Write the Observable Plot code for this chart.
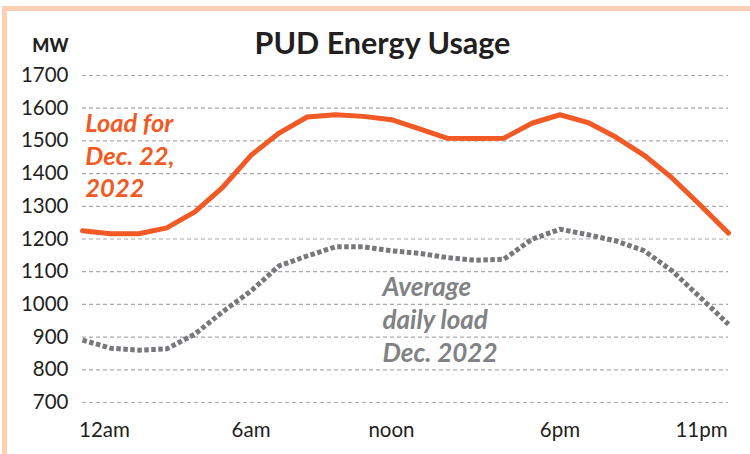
<!DOCTYPE html>
<html>
<head>
<meta charset="utf-8">
<script src="https://cdn.jsdelivr.net/npm/d3@7"></script>
<script src="https://cdn.jsdelivr.net/npm/@observablehq/plot@0.6"></script>
<style>
  html, body { margin: 0; padding: 0; background: #fff; }
  #wrap { position: relative; width: 750px; height: 454px; overflow: hidden; background: #fff; }
  #border { position: absolute; left: 2px; top: 6px; width: 760px; height: 460px;
            border-left: 5px solid #fdd0b6; border-top: 5px solid #fdd0b6; pointer-events: none; }
  #chart { position: absolute; left: 0; top: 0; }
  svg { font-family: Lato, "Open Sans", sans-serif; }
</style>
</head>
<body>
<div id="wrap"><div id="chart"></div><div id="border"></div></div>
<script>
// Hour index 0..23 (12am .. 11pm)
const hours = d3.range(24);
const loadDec22 = [1225, 1216, 1216, 1234, 1283, 1359, 1456, 1524, 1573, 1580, 1575, 1565,
                   1537, 1508, 1507, 1508, 1554, 1580, 1556, 1511, 1456, 1386, 1303, 1218];
const avgDec2022 = [891, 866, 860, 864, 909, 978, 1041, 1118, 1148, 1176, 1176, 1164,
                    1156, 1143, 1135, 1138, 1199, 1230, 1213, 1194, 1164, 1102, 1021, 939];
const yTicks = [700, 800, 900, 1000, 1100, 1200, 1300, 1400, 1500, 1600, 1700];
const xTickPos = [0.78, 6, 11, 17, 22.04];
const xTickLabels = ["12am", "6am", "noon", "6pm", "11pm"];

const loadRows = hours.map((h, i) => ({hour: h, mw: loadDec22[i]}));
const avgRows = hours.map((h, i) => ({hour: h, mw: avgDec2022[i]}));
const xLabelRows = xTickPos.map((p, i) => ({pos: p, label: xTickLabels[i]}));

const orange = "#f15a24";
const grayLine = "#77787b";
const grayText = "#808285";
const ink = "#231f20";

const chart = Plot.plot({
  width: 750,
  height: 454,
  marginLeft: 82,
  marginRight: 22,
  marginTop: 75,
  marginBottom: 52,
  style: {background: "transparent", fontFamily: "Lato, sans-serif"},
  x: {domain: [0, 23], axis: null},
  y: {domain: [700, 1700], axis: null},
  marks: [
    Plot.gridY(yTicks, {stroke: "#aaaaaa", strokeOpacity: 1, strokeWidth: 1.2, strokeDasharray: "4,3"}),
    Plot.axisY({ticks: yTicks, tickSize: 0, tickPadding: 14, fontSize: 20.5, fill: ink, label: null, tickFormat: d => String(d)}),
    Plot.text(xLabelRows, {x: "pos", text: "label", frameAnchor: "bottom", dy: 20, lineAnchor: "top", fontSize: 20.5, fill: ink}),
    Plot.line(avgRows, {x: "hour", y: "mw", stroke: grayLine, strokeWidth: 5, strokeDasharray: "4.5,2.5", strokeLinecap: "butt", strokeLinejoin: "round"}),
    Plot.line(loadRows, {x: "hour", y: "mw", stroke: orange, strokeWidth: 5, strokeLinejoin: "round"}),
    Plot.text(["Load for\nDec. 22,\n2022"], {x: 0.1, y: 1597, text: d => d, textAnchor: "start", lineAnchor: "top", lineHeight: 1.27, fontSize: 25.5, fontWeight: "bold", fontStyle: "italic", fill: orange}),
    Plot.text(["Average\ndaily load\nDec. 2022"], {x: 10.68, y: 1098, text: d => d, textAnchor: "start", lineAnchor: "top", lineHeight: 1.27, fontSize: 26, fontWeight: "bold", fontStyle: "italic", fill: grayText}),
    Plot.text(["PUD Energy Usage"], {x: 10.68, frameAnchor: "top", dy: -22, lineAnchor: "bottom", text: d => d, fontSize: 30.5, fontWeight: "bold", fill: ink}),
    Plot.text(["MW"], {frameAnchor: "top-left", dx: -14, dy: -23.5, textAnchor: "end", lineAnchor: "bottom", text: d => d, fontSize: 18, fontWeight: "900", fill: ink})
  ]
});
document.getElementById("chart").appendChild(chart);
</script>
</body>
</html>
